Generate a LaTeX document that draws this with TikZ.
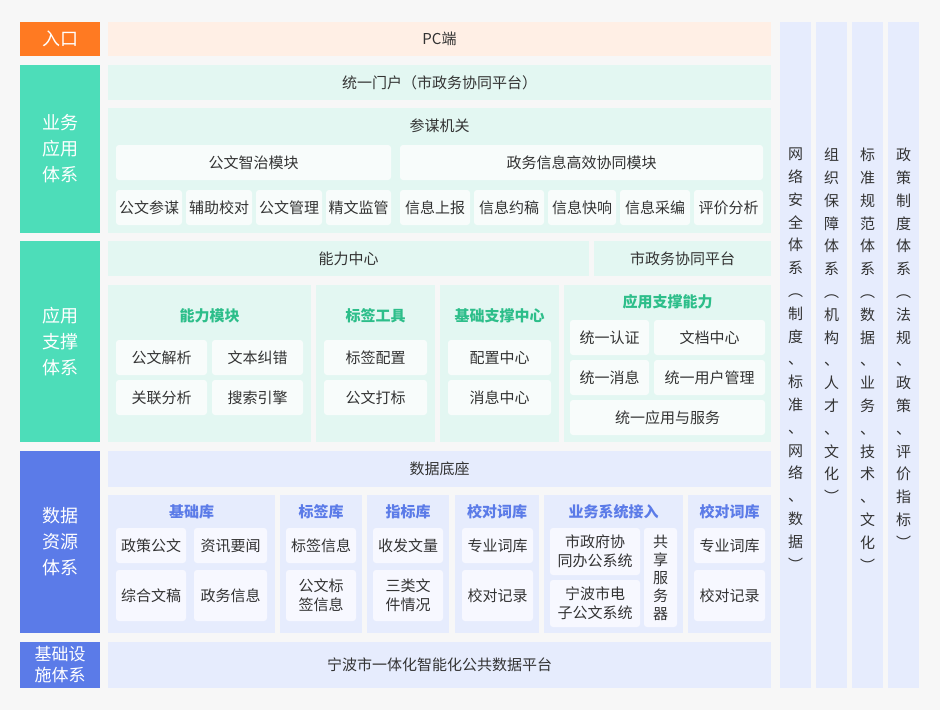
\documentclass[tikz,border=0pt]{standalone}
\usepackage{fontspec}
\setmainfont{Noto Sans CJK SC}
\usetikzlibrary{positioning}
\definecolor{bgGray}{HTML}{F7F7F7}
\definecolor{entryOrange}{HTML}{FF7A22}
\definecolor{entryLight}{HTML}{FFEFE5}
\definecolor{appTeal}{HTML}{4DDDB9}
\definecolor{appLight}{HTML}{E3F7F2}
\definecolor{appWhite}{HTML}{F8FCFB}
\definecolor{appTitle}{HTML}{2DBE8A}
\definecolor{dataBlue}{HTML}{5B7BE8}
\definecolor{dataLight}{HTML}{E6ECFD}
\definecolor{dataWhite}{HTML}{F7F8FF}
\definecolor{txtGray}{HTML}{333333}
% block from corner (x1,y1) to corner (x2,y2), in pixels
\newcommand{\blk}[7]{%
  \pgfmathsetmacro{\bw}{#4-#2}\pgfmathsetmacro{\bh}{#5-#3}%
  \node[#6, minimum width=\bw pt, minimum height=\bh pt] (#1) at ({(#2+#4)/2},{(#3+#5)/2}) {#7};}
\begin{document}
\begin{tikzpicture}[x=1pt, y=-1pt,
    base/.style={inner sep=0pt, outer sep=0pt, align=center, font=\fontsize{15}{19}\selectfont, text=txtGray},
    sideLabel/.style={base, font=\fontsize{18}{26}\selectfont, text=white},
    entryBar/.style={base, fill=entryLight},
    appBar/.style={base, fill=appLight},
    appCell/.style={base, fill=appWhite, rounded corners=3pt},
    dataBar/.style={base, fill=dataLight},
    dataCell/.style={base, fill=dataWhite, rounded corners=3pt},
    appHead/.style={font=\fontsize{15}{19}\selectfont\bfseries, text=appTitle},
    dataHead/.style={font=\fontsize{15}{19}\selectfont\bfseries, text=dataBlue}]

  \fill[bgGray] (0,0) rectangle (940,710);
  \useasboundingbox (0,0) rectangle (940,710);

  % left layer labels
  \blk{entry}{20}{22}{100}{56}{sideLabel, fill=entryOrange}{入口}
  \blk{bizApp}{20}{65}{100}{233}{sideLabel, fill=appTeal}{业务\\应用\\体系}
  \blk{support}{20}{241}{100}{442}{sideLabel, fill=appTeal}{应用\\支撑\\体系}
  \blk{dataRes}{20}{451}{100}{633}{sideLabel, fill=dataBlue}{数据\\资源\\体系}
  \blk{infra}{20}{642}{100}{688}{sideLabel, fill=dataBlue, font=\fontsize{17}{21}\selectfont}{基础设\\施体系}

  % entry
  \blk{pc}{108}{22}{771}{56}{entryBar}{PC端}

  % business applications
  \blk{portal}{108}{65}{771}{100}{appBar}{统一门户（市政务协同平台）}
  \blk{staff}{108}{108}{771}{233}{appBar}{}
  \node[base] (staffT) at (439.5,126) {参谋机关};
  \blk{govDoc}{116}{145}{391}{180}{appCell}{公文智治模块}
  \blk{govInfo}{400}{145}{763}{180}{appCell}{政务信息高效协同模块}
  \blk{gd1}{116}{190}{182}{225}{appCell}{公文参谋}
  \blk{gd2}{186}{190}{252}{225}{appCell}{辅助校对}
  \blk{gd3}{256}{190}{322}{225}{appCell}{公文管理}
  \blk{gd4}{326}{190}{391}{225}{appCell}{精文监管}
  \blk{gi1}{400}{190}{470}{225}{appCell}{信息上报}
  \blk{gi2}{474}{190}{544}{225}{appCell}{信息约稿}
  \blk{gi3}{548}{190}{616}{225}{appCell}{信息快响}
  \blk{gi4}{620}{190}{690}{225}{appCell}{信息采编}
  \blk{gi5}{694}{190}{763}{225}{appCell}{评价分析}

  % application support
  \blk{capCenter}{108}{241}{589}{276}{appBar}{能力中心}
  \blk{cityPlat}{594}{241}{771}{276}{appBar}{市政务协同平台}
  \blk{capMod}{108}{285}{311}{442}{appBar}{}
  \blk{tagTool}{316}{285}{435}{442}{appBar}{}
  \blk{baseSup}{440}{285}{559}{442}{appBar}{}
  \blk{appSup}{564}{285}{771}{442}{appBar}{}
  \node[base, appHead] (capModT) at (209.5,316) {能力模块};
  \node[base, appHead] (tagToolT) at (375.5,316) {标签工具};
  \node[base, appHead] (baseSupT) at (499.5,316) {基础支撑中心};
  \node[base, appHead] (appSupT) at (667.5,302) {应用支撑能力};
  \blk{cm1}{116}{340}{207}{375}{appCell}{公文解析}
  \blk{cm2}{212}{340}{303}{375}{appCell}{文本纠错}
  \blk{cm3}{116}{380}{207}{415}{appCell}{关联分析}
  \blk{cm4}{212}{380}{303}{415}{appCell}{搜索引擎}
  \blk{tt1}{324}{340}{427}{375}{appCell}{标签配置}
  \blk{tt2}{324}{380}{427}{415}{appCell}{公文打标}
  \blk{bs1}{448}{340}{551}{375}{appCell}{配置中心}
  \blk{bs2}{448}{380}{551}{415}{appCell}{消息中心}
  \blk{as1}{570}{320}{649}{355}{appCell}{统一认证}
  \blk{as2}{654}{320}{765}{355}{appCell}{文档中心}
  \blk{as3}{570}{360}{649}{395}{appCell}{统一消息}
  \blk{as4}{654}{360}{765}{395}{appCell}{统一用户管理}
  \blk{as5}{570}{400}{765}{435}{appCell}{统一应用与服务}

  % data resources
  \blk{dataBase}{108}{451}{771}{487}{dataBar}{数据底座}
  \blk{libBase}{108}{495}{275}{633}{dataBar}{}
  \blk{libTag}{280}{495}{362}{633}{dataBar}{}
  \blk{libIdx}{367}{495}{449}{633}{dataBar}{}
  \blk{libProof}{455}{495}{539}{633}{dataBar}{}
  \blk{libSys}{544}{495}{683}{633}{dataBar}{}
  \blk{libProofB}{688}{495}{771}{633}{dataBar}{}
  \node[base, dataHead] (libBaseT) at (191.5,512) {基础库};
  \node[base, dataHead] (libTagT) at (321,512) {标签库};
  \node[base, dataHead] (libIdxT) at (408,512) {指标库};
  \node[base, dataHead] (libProofT) at (497,512) {校对词库};
  \node[base, dataHead] (libSysT) at (613.5,512) {业务系统接入};
  \node[base, dataHead] (libProofBT) at (729.5,512) {校对词库};
  \blk{lb1}{116}{528}{186}{563}{dataCell}{政策公文}
  \blk{lb2}{194}{528}{267}{563}{dataCell}{资讯要闻}
  \blk{lb3}{116}{570}{186}{621}{dataCell}{综合文稿}
  \blk{lb4}{194}{570}{267}{621}{dataCell}{政务信息}
  \blk{lt1}{286}{528}{356}{563}{dataCell}{标签信息}
  \blk{lt2}{286}{570}{356}{621}{dataCell}{公文标\\签信息}
  \blk{li1}{373}{528}{443}{563}{dataCell}{收发文量}
  \blk{li2}{373}{570}{443}{621}{dataCell}{三类文\\件情况}
  \blk{lp1}{462}{528}{533}{563}{dataCell}{专业词库}
  \blk{lp2}{462}{570}{533}{621}{dataCell}{校对记录}
  \blk{ls1}{550}{528}{640}{575}{dataCell}{市政府协\\同办公系统}
  \blk{ls2}{550}{580}{640}{627}{dataCell}{宁波市电\\子公文系统}
  \blk{ls3}{644}{528}{677}{627}{dataCell, font=\fontsize{15}{18}\selectfont}{共\\享\\服\\务\\器}
  \blk{lq1}{694}{528}{765}{563}{dataCell}{专业词库}
  \blk{lq2}{694}{570}{765}{621}{dataCell}{校对记录}

  % infrastructure
  \blk{platform}{108}{642}{771}{688}{dataBar}{宁波市一体化智能化公共数据平台}

  % right-hand guarantee columns
  \foreach \cx/\nm/\txt in {
      780/netSec/{网\\络\\安\\全\\体\\系\\︵\\制\\度\\、\\标\\准\\、\\网\\络\\、\\数\\据\\︶},
      816/orgSec/{组\\织\\保\\障\\体\\系\\︵\\机\\构\\、\\人\\才\\、\\文\\化\\︶},
      852/stdSec/{标\\准\\规\\范\\体\\系\\︵\\数\\据\\、\\业\\务\\、\\技\\术\\、\\文\\化\\︶},
      888/polSec/{政\\策\\制\\度\\体\\系\\︵\\法\\规\\、\\政\\策\\、\\评\\价\\指\\标\\︶}} {
    \fill[dataLight] (\cx,22) rectangle (\cx+31,688);
    \node[base, anchor=north, font=\fontsize{15}{22.8}\selectfont] (\nm) at (\cx+15.5,148) {\txt};
  }
\end{tikzpicture}
\end{document}
